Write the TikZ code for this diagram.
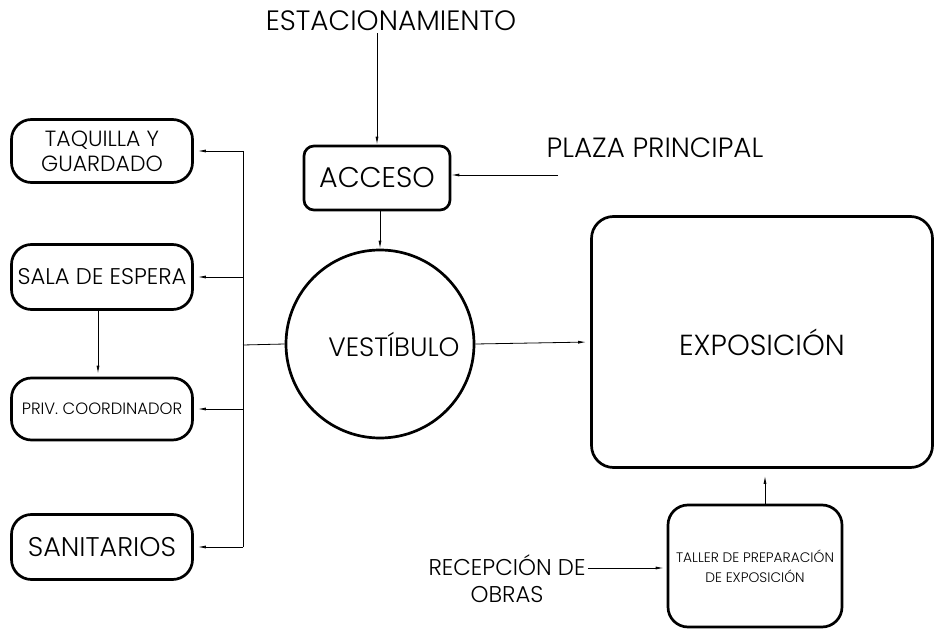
\documentclass[tikz,border=0pt]{standalone}
\usepackage{fontspec}
\setmainfont{Poppins}[UprightFont=* Light]
\usepackage{tikz}
\usetikzlibrary{arrows.meta,positioning,calc}
\newcommand{\fs}[2]{\fontsize{#1}{#2}\selectfont}

\begin{document}
\begin{tikzpicture}[x=1pt, y=-1pt,
  room/.style={draw, line width=2.7pt, rounded corners=16pt, align=center, inner sep=1pt},
  sidebox/.style={room, rounded corners=20pt, minimum width=181pt, minimum height=63pt},
  lbl/.style={align=center, inner sep=2pt},
  arr/.style={-{Latex[length=8pt,width=3pt]}, line width=0.8pt},
  lnk/.style={-, line width=0.8pt}]
\useasboundingbox (0,0) rectangle (934,631);
\node[lbl, font=\fs{28}{32}] (estac) at (391,21) {ESTACIONAMIENTO};
\node[lbl, font=\fs{27.8}{30}] (plaza) at (655,148) {PLAZA PRINCIPAL};
\node[room, rounded corners=10pt, minimum width=146pt, minimum height=64pt, font=\fs{28.5}{32}] (acceso) at (377,178) {ACCESO};
\node[draw, circle, line width=2.7pt, minimum size=188pt, font=\fs{26.5}{30}] (vest) at (380,344) {\hspace*{28pt}VESTÍBULO};
\node[room, rounded corners=22pt, minimum width=341pt, minimum height=251pt, font=\fs{29}{32}] (expo) at (762,342) {EXPOSICIÓN};
\node[room, rounded corners=20pt, minimum width=174pt, minimum height=122pt, font=\fs{13.8}{20}] (taller) at (755,566) {TALLER DE PREPARACIÓN\\DE EXPOSICIÓN};
\node[lbl, font=\fs{22.8}{27}] (recep) at (507,579) {RECEPCIÓN DE\\OBRAS};
\node[sidebox, font=\fs{22}{25}] (taq) at (102,151) {TAQUILLA Y\\GUARDADO};
\node[sidebox, minimum height=65pt, font=\fs{22.7}{25}] (sala) at (102,277) {SALA DE ESPERA};
\node[sidebox, minimum height=62pt, font=\fs{16.4}{18}] (priv) at (102,409) {PRIV. COORDINADOR};
\node[sidebox, minimum height=65pt, font=\fs{27}{30}] (san) at (102,547) {SANITARIOS};
\coordinate (bus) at (243,345);
\coordinate (pp) at (558,175);
\coordinate (rc) at (588,568);
\draw[arr] (estac.south -| acceso.north) -- (acceso.north);
\draw[arr] (pp) -- (pp -| acceso.east);
\draw[arr] ([xshift=3pt]acceso.south) -- ([xshift=3pt]acceso.south |- vest.north);
\draw[arr, shorten >=4pt] (vest.east) -- (expo.west);
\draw[arr, shorten >=7pt] ([xshift=10pt]taller.north) -- ([xshift=10pt]taller.north |- expo.south);
\draw[arr, shorten >=3pt] (rc) -- (rc -| taller.west);
\draw[lnk] (vest.west) -- (bus);
\draw[lnk] (bus |- taq.east) -- (bus |- san.east);
\foreach \b in {taq,sala,priv,san}
  \draw[arr, shorten >=4pt] (bus |- \b.east) -- (\b.east);
\draw[arr, shorten >=3pt] ([xshift=-4pt]sala.south) -- ([xshift=-4pt]priv.north);
\end{tikzpicture}
\end{document}
